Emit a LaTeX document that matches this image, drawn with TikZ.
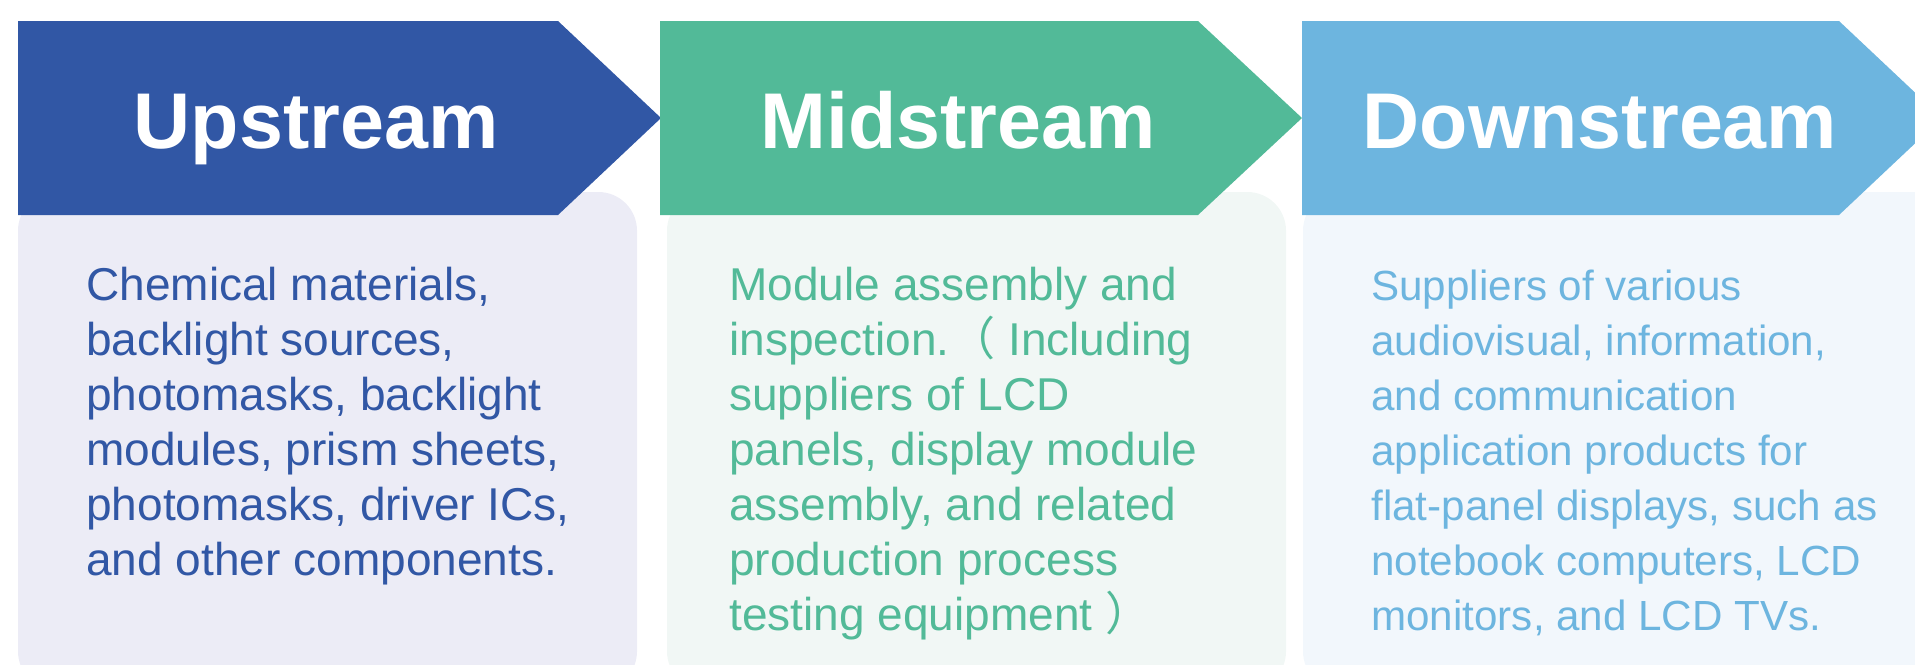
\documentclass[tikz,border=0pt]{standalone}
\usepackage{fontspec}
\setmainfont{Liberation Sans}
\newfontfamily\cjk{Noto Sans CJK SC}
\usetikzlibrary{positioning}
\definecolor{upblue}{RGB}{49,87,165}
\definecolor{midgreen}{RGB}{82,186,152}
\definecolor{downsky}{RGB}{109,181,223}
\definecolor{upbg}{RGB}{236,236,246}
\definecolor{midbg}{RGB}{241,247,245}
\definecolor{downbg}{RGB}{242,247,252}

\begin{document}
\begin{tikzpicture}[x=0.02cm, y=-0.02cm]
		% Styles for the chain stages
		\tikzset{stage/.style={font=\fontsize{45}{54}\selectfont\bfseries, text=white, anchor=base, inner sep=0pt}}
		\tikzset{info/.style={font=\fontsize{26.2}{31.3}\selectfont, align=left, anchor=base west, inner sep=0pt}}
		\tikzset{card/.style={rounded corners=22pt}}
		
		\useasboundingbox (0,0) rectangle (1915,664);
		\clip (0,0) rectangle (1915,664);
		
		% Background cards
		\fill[upbg, card]   (18,192) rectangle (637,690);
		\fill[midbg, card]  (667,192) rectangle (1286,690);
		\fill[downbg, card] (1303,192) rectangle (1990,690);
		
		% Arrow banners
		\fill[upblue]   (18,21) -- (558,21) -- (661,118) -- (558,215) -- (18,215) -- cycle;
		\fill[midgreen] (660,21) -- (1198,21) -- (1302,118) -- (1198,215) -- (660,215) -- cycle;
		\fill[downsky]  (1302,21) -- (1839,21) -- (1942,118) -- (1839,215) -- (1302,215) -- cycle;
		
		\node[stage] (up)   at (316,148)  {Upstream};
		\node[stage] (mid)  at (958,148)  {Midstream};
		\node[stage] (down) at (1600,148) {Downstream};
		
		% Descriptions (placed by the baseline of the last line)
		\node[info, text=upblue] (upinfo) at (86,575) {Chemical materials,\\backlight sources,\\photomasks, backlight\\modules, prism sheets,\\photomasks, driver ICs,\\and other components.};
		\node[info, text=midgreen] (midinfo) at (729,630) {Module assembly and\\inspection.{\cjk （} Including\\suppliers of LCD\\panels, display module\\assembly, and related\\production process\\testing equipment {\cjk ）}};
		\node[info, text=downsky, font=\fontsize{24}{31.3}\selectfont] (downinfo) at (1371,630) {Suppliers of various\\audiovisual, information,\\and communication\\application products for\\flat-panel displays, such as\\notebook computers, LCD\\monitors, and LCD TVs.};
	\end{tikzpicture}
\end{document}
